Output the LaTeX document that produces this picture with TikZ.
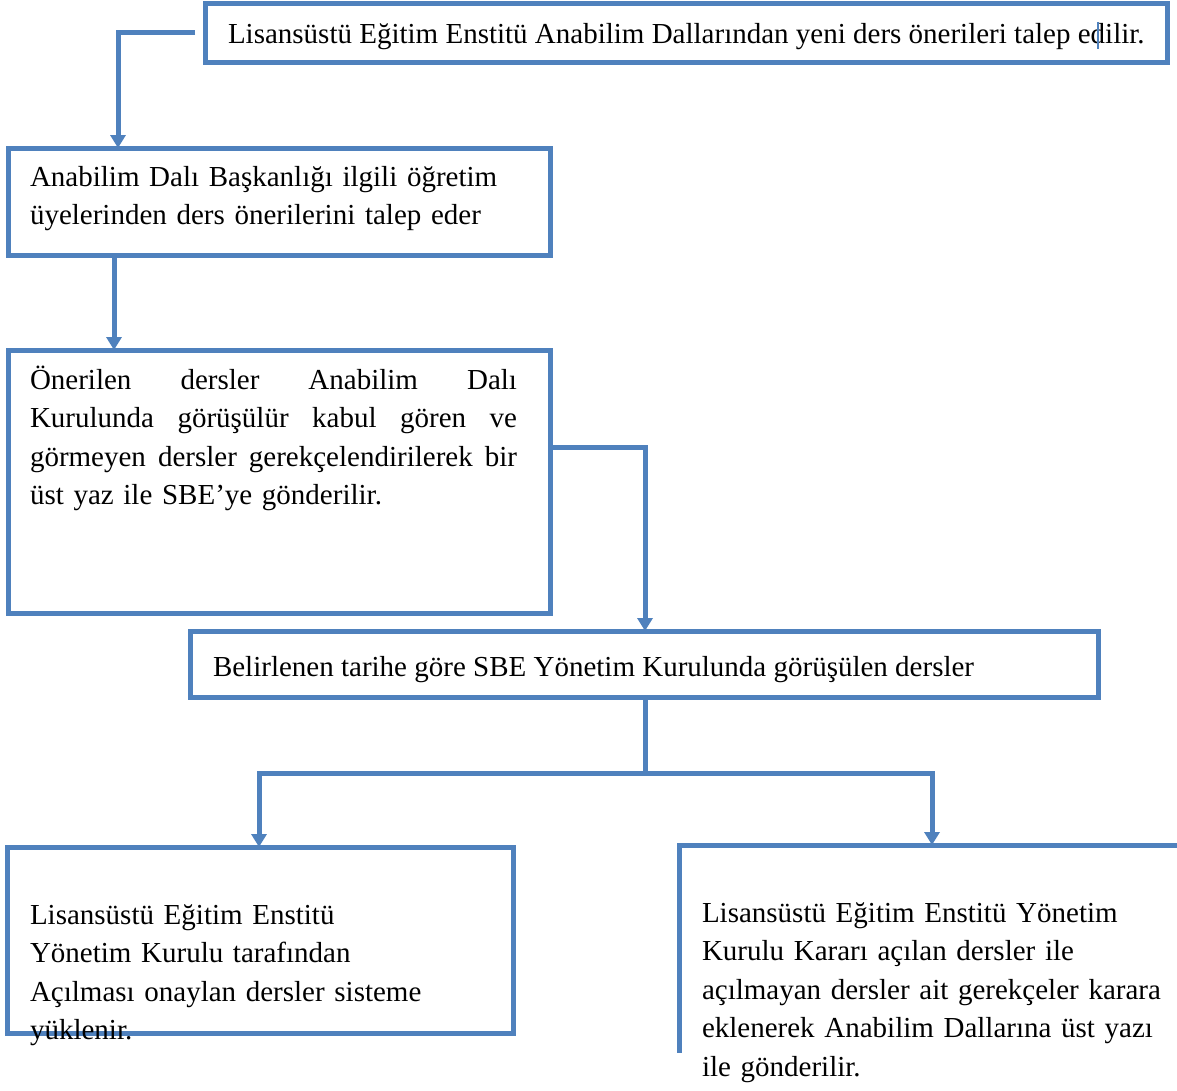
\documentclass[tikz,border=0pt]{standalone}
\usepackage{fontspec}
\setmainfont{Liberation Serif}
\usetikzlibrary{arrows.meta,calc}
\definecolor{bl}{HTML}{4F81BD}
\newcommand{\jline}[1]{\makebox[487pt][l]{#1}}
\begin{document}
\begin{tikzpicture}[x=1pt,y=-1pt,
  box/.style={draw=bl,line width=5pt,inner sep=0pt,outer sep=0pt,anchor=north west},
  ghost/.style={inner sep=0pt,outer sep=0pt,anchor=north west},
  txt/.style={inner sep=0pt,outer sep=0pt,anchor=base west,align=left,
    font=\fontsize{29}{38.5}\selectfont},
  conn/.style={draw=bl,line width=5pt,-{Triangle[width=15pt,length=13pt]}},
  plain/.style={draw=bl,line width=5pt}]
\useasboundingbox (0,0) rectangle (1177,1090);
\fill[white] (0,0) rectangle (1177,1090);
% boxes
\node[box,minimum width=962pt,minimum height=59pt] (b1) at (205,3) {};
\node[box,minimum width=542pt,minimum height=107pt] (b2) at (8,148) {};
\node[box,minimum width=542pt,minimum height=263pt] (b3) at (8,350) {};
\node[box,minimum width=908pt,minimum height=66pt] (b4) at (190,631) {};
\node[box,minimum width=506pt,minimum height=186pt] (b5) at (7,847) {};
\node[ghost,minimum width=498pt,minimum height=205pt] (b6) at (679,845) {};
\draw[plain,line cap=rect] (b6.south west) -- (b6.north west) -- (b6.north east);
% texts
\node[txt] (t1) at (228,43) {Lisansüstü Eğitim Enstitü Anabilim Dallarından yeni ders önerileri talep edilir.};
\draw[bl,line width=2pt] (1098,22) -- (1098,49);
\node[txt,text width=530pt] (t2) at (30,186) {Anabilim Dalı Başkanlığı ilgili öğretim\\ üyelerinden ders önerilerini talep eder};
\node[txt,text width=510pt] (t3) at (30,389) {\jline{Önerilen\hfill dersler\hfill Anabilim\hfill Dalı}\\
\jline{Kurulunda\hfill görüşülür\hfill kabul\hfill gören\hfill ve}\\
\jline{görmeyen\hfill dersler\hfill gerekçelendirilerek\hfill bir}\\
üst yaz ile SBE’ye gönderilir.};
\node[txt] (t4) at (213,676) {Belirlenen tarihe göre SBE Yönetim Kurulunda görüşülen dersler};
\node[txt,text width=490pt] (t5) at (30,924) {Lisansüstü Eğitim Enstitü\\ Yönetim Kurulu tarafından\\ Açılması onaylan dersler sisteme\\ yüklenir.};
\node[txt,text width=474pt] (t6) at (702,922) {Lisansüstü Eğitim Enstitü Yönetim\\ Kurulu Kararı açılan dersler ile\\ açılmayan dersler ait gerekçeler karara\\ eklenerek Anabilim Dallarına üst yazı\\ ile gönderilir.};
% connectors
\draw[conn] ([xshift=-10pt]b1.west) -| ($(b2.north west)+(110,0)$);
\draw[conn] ($(b2.south west)+(106,0)$) -- ($(b3.north west)+(106,0)$);
\draw[conn] ($(b3.north east)+(3,97)$) -| ($(b4.north west)+(455,0)$);
\coordinate (j) at ($(b4.south west)+(455,76)$);
\draw[plain] ($(b4.south west)+(455,0)$) -- (j);
\draw[conn] (j) -| ($(b5.north west)+(252,0)$);
\draw[conn] (j) -| ($(b6.north west)+(253,0)$);
\end{tikzpicture}
\end{document}
